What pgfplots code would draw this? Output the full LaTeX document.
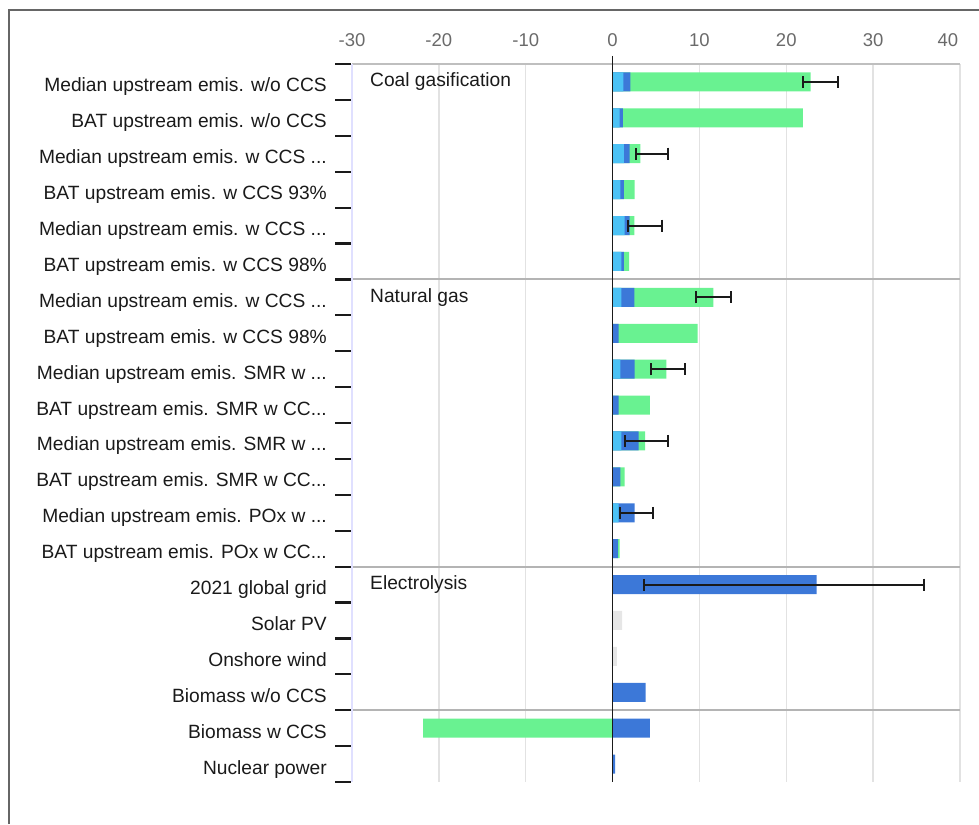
\documentclass[border=0pt]{standalone}
\usepackage{fontspec}
\setmainfont{Liberation Sans}
\usepackage{pgfplots}
\pgfplotsset{compat=1.18}
\definecolor{lb}{HTML}{4CC2F5}
\definecolor{db}{HTML}{3C78D8}
\definecolor{gr}{HTML}{69F291}
\definecolor{lg}{HTML}{E6E6E6}
\definecolor{sepc}{HTML}{B4B4B4}
\definecolor{gridc}{HTML}{E2E2E2}
\definecolor{txt}{HTML}{1A1A1A}
\definecolor{tickc}{HTML}{6A6A6A}
\newcommand{\ddd}{...}
\begin{document}
\begin{tikzpicture}
\useasboundingbox (0,0) rectangle (979pt,824pt);
\draw[black!60, line width=2pt] (9pt,0pt) -- (9pt,814pt) -- (979pt,814pt);
\begin{axis}[
  at={(352pt,42pt)}, anchor=south west,
  scale only axis, width=608pt, height=718pt,
  xmin=-30, xmax=40, ymin=0.5, ymax=20.5,
  y dir=reverse,
  clip=false,
  axis line style={draw=none},
  xtick={-30,-20,-10,0,10,20,30,40},
  xticklabels={-30,-20,-10,0,10,20,30,{\makebox[0pt]{\hspace*{-24pt}40}}},
  xticklabel pos=upper,
  xmajorgrids,
  grid style={color=gridc, line width=1.5pt},
  major tick length=0pt,
  ytick={1,2,3,4,5,6,7,8,9,10,11,12,13,14,15,16,17,18,19,20},
  yticklabels={
    {Median upstream emis. w/o CCS},
    {BAT upstream emis. w/o CCS},
    {Median upstream emis. w CCS \ddd},
    {BAT upstream emis. w CCS 93\%},
    {Median upstream emis. w CCS \ddd},
    {BAT upstream emis. w CCS 98\%},
    {Median upstream emis. w CCS \ddd},
    {BAT upstream emis. w CCS 98\%},
    {Median upstream emis. SMR w \ddd},
    {BAT upstream emis. SMR w CC\ddd},
    {Median upstream emis. SMR w \ddd},
    {BAT upstream emis. SMR w CC\ddd},
    {Median upstream emis. POx w \ddd},
    {BAT upstream emis. POx w CC\ddd},
    {2021 global grid},
    {Solar PV},
    {Onshore wind},
    {Biomass w/o CCS},
    {Biomass w CCS},
    {Nuclear power}},
  yticklabel style={anchor=base east, inner sep=0pt, xshift=-25pt, yshift=-10pt, text=txt, font=\fontsize{19.2}{22}\selectfont},
  xticklabel style={anchor=south, inner sep=0pt, yshift=17pt, text=tickc, font=\fontsize{18.5}{22}\selectfont},
]
% green (cumulative end of stack)
\addplot[xbar, bar width=19pt, bar shift=0pt, fill=gr, draw=none] coordinates {
  (22.8,1) (21.9,2) (3.2,3) (2.55,4) (2.5,5) (1.9,6) (11.6,7) (9.8,8) (6.2,9) (4.3,10)
  (3.75,11) (1.4,12) (0.8,14) (-21.8,19)};
% dark blue (cumulative)
\addplot[xbar, bar width=19pt, bar shift=0pt, fill=db, draw=none] coordinates {
  (2.05,1) (1.2,2) (1.95,3) (1.3,4) (1.95,5) (1.3,6) (2.5,7) (0.7,8) (2.55,9) (0.7,10)
  (3.0,11) (0.9,12) (2.55,13) (0.6,14) (23.5,15) (3.8,18) (4.3,19) (0.3,20)};
% light blue
\addplot[xbar, bar width=19pt, bar shift=0pt, fill=lb, draw=none] coordinates {
  (1.25,1) (0.8,2) (1.3,3) (0.9,4) (1.4,5) (1.0,6) (1.0,7) (0.9,9) (1.0,11) (0.7,13)};
% light grey
\addplot[xbar, bar width=19pt, bar shift=0pt, fill=lg, draw=none] coordinates {
  (1.1,16) (0.5,17)};
% error bars
\addplot[draw=none, mark=none,
  error bars/.cd, x dir=both, x explicit, error mark=|,
  error bar style={draw=txt, line width=2pt},
  error mark options={draw=txt, line width=2pt, mark size=6pt}] coordinates {
  (22.7,1) += (3.2,0) -= (0.8,0)
  (3.2,3) += (3.2,0) -= (0.55,0)
  (2.5,5) += (3.15,0) -= (0.7,0)
  (11.6,7) += (2.0,0) -= (1.95,0)
  (6.2,9) += (2.1,0) -= (1.75,0)
  (3.75,11) += (2.65,0) -= (2.3,0)
  (2.55,13) += (2.1,0) -= (1.75,0)
  (23.5,15) += (12.4,0) -= (19.9,0)};
% decorations
\draw[black!25, line width=2pt] (axis cs:-30,0.5) -- (axis cs:40,0.5);
\draw[sepc, line width=2pt] (axis cs:-30,6.5) -- (axis cs:40,6.5);
\draw[sepc, line width=2pt] (axis cs:-30,14.5) -- (axis cs:40,14.5);
\draw[sepc, line width=2pt] (axis cs:-30,18.5) -- (axis cs:40,18.5);
\draw[blue!12, line width=1.5pt] (axis cs:-30,0.5) -- (axis cs:-30,20.5);
\draw[txt, line width=1.5pt] ([yshift=8pt]axis cs:0,0.5) -- (axis cs:0,20.5);
\pgfplotsinvokeforeach{0,...,20}{
  \draw[txt, line width=2.2pt] ([xshift=-17pt]axis cs:-30,#1.5) -- ([xshift=-1pt]axis cs:-30,#1.5);
}
\node[anchor=base west, inner sep=0pt, text=txt, font=\fontsize{19.2}{22}\selectfont] at ([xshift=18pt,yshift=-5pt]axis cs:-30,1) {Coal gasification};
\node[anchor=base west, inner sep=0pt, text=txt, font=\fontsize{19.2}{22}\selectfont] at ([xshift=18pt,yshift=-5pt]axis cs:-30,7) {Natural gas};
\node[anchor=base west, inner sep=0pt, text=txt, font=\fontsize{19.2}{22}\selectfont] at ([xshift=18pt,yshift=-5pt]axis cs:-30,15) {Electrolysis};
\end{axis}
\end{tikzpicture}
\end{document}
